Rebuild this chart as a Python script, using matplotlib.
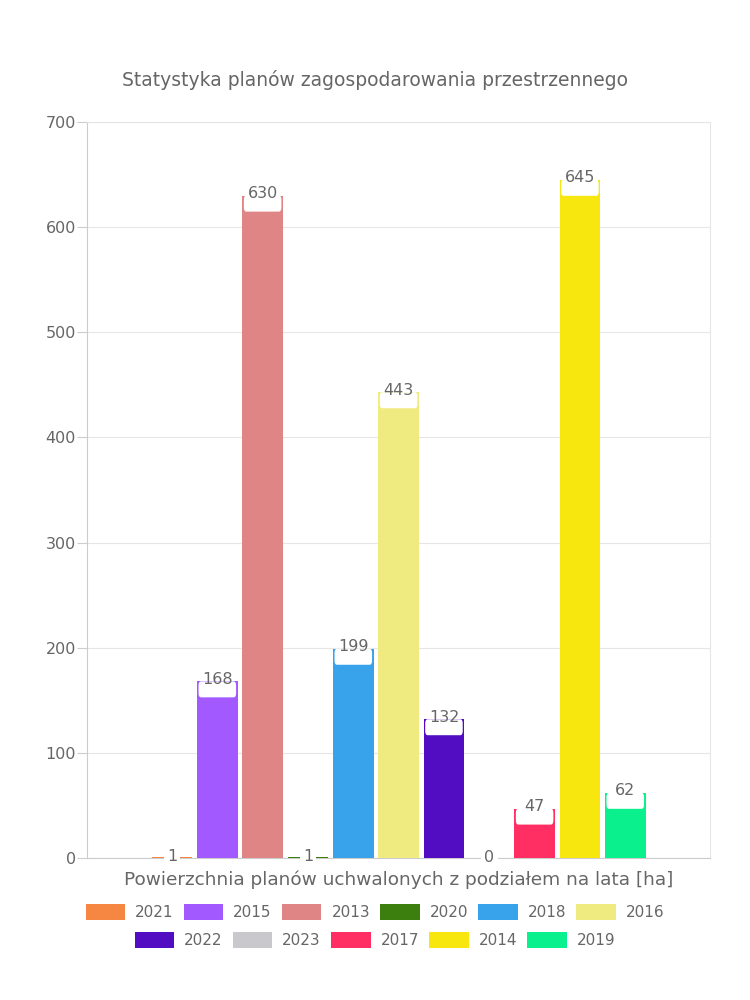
import matplotlib.pyplot as plt
from matplotlib.patches import FancyBboxPatch, Patch

# ── data ──────────────────────────────────────────────────────────────────────
YEARS = ["2021", "2015", "2013", "2020", "2018", "2016",
         "2022", "2023", "2017", "2014", "2019"]
VALUES = [1, 168, 630, 1, 199, 443, 132, 0, 47, 645, 62]
COLORS = ["#F58742", "#A259FF", "#E08585", "#3D7F0E", "#38A3EB", "#F0EB80",
          "#520DC2", "#C9C9CD", "#FF2E63", "#F7E70F", "#0AF08C"]
Y_TICKS = [0, 100, 200, 300, 400, 500, 600, 700]

TITLE = "Statystyka planów zagospodarowania przestrzennego"
XLABEL = "Powierzchnia planów uchwalonych z podziałem na lata [ha]"

TEXT_C = "#666666"
GRID_C = "#E6E6E6"
FONT = ["DejaVu Sans"]

plt.rcParams["font.family"] = FONT

fig = plt.figure(figsize=(7.5, 10), dpi=100)
ax = fig.add_axes([0.116, 0.142, 0.831, 0.736])

n = len(VALUES)
group_w = 0.8
bar_step = group_w / n
bar_w = bar_step * 0.9
xs = [-group_w / 2 + bar_step * (i + 0.5) for i in range(n)]

ax.set_xlim(-0.5, 0.5)
ax.set_ylim(0, 700)

for x, v, c in zip(xs, VALUES, COLORS):
    ax.bar(x, v, width=bar_w, color=c, zorder=3)

# value labels with a white rounded tab hanging from the bar top
px_per_unit = (0.736 * 1000) / 700.0
box_h = 16 / px_per_unit
for x, v in zip(xs, VALUES):
    if v >= 20:
        bw = bar_w * 0.92
        box = FancyBboxPatch((x - bw / 2, v - box_h), bw, box_h,
                             boxstyle="round,pad=0,rounding_size=0.004",
                             mutation_aspect=box_h / 0.004 / 4,
                             facecolor="white", edgecolor="none", zorder=4)
        ax.add_patch(box)
        ax.text(x, v + 2, str(v), ha="center", va="center", fontsize=11.5,
                color=TEXT_C, zorder=5)
    else:
        ax.text(x, v, str(v), ha="center", va="center", fontsize=11.5,
                color=TEXT_C, zorder=5,
                bbox=dict(boxstyle="square,pad=0.2", facecolor="white",
                          edgecolor="none"))

# axes styling
ax.set_yticks(Y_TICKS)
ax.set_xticks([])
ax.tick_params(axis="y", length=7, color="#CCCCCC", labelsize=11.5,
               labelcolor=TEXT_C, pad=1)
ax.grid(axis="y", color=GRID_C, linewidth=0.8, zorder=0)
for side in ["left", "bottom"]:
    ax.spines[side].set_color("#CCCCCC")
for side in ["top", "right"]:
    ax.spines[side].set_color(GRID_C)

fig.text(0.5, 0.92, TITLE, ha="center", va="center", fontsize=13.5,
         color=TEXT_C)
ax.text(0.5, -0.0299, XLABEL, transform=ax.transAxes, ha="center",
        va="center", fontsize=13.3, color=TEXT_C)

# legend in two centred rows
handles = [Patch(facecolor=c, edgecolor="none") for c in COLORS]
leg_kw = dict(frameon=False, fontsize=11, labelcolor=TEXT_C,
              handlelength=2.6, handleheight=1.25, handletextpad=0.65,
              columnspacing=0.65, loc="center")
fig.legend(handles[:6], YEARS[:6], ncol=6,
           bbox_to_anchor=(0.5, 0.088), **leg_kw)
fig.legend(handles[6:], YEARS[6:], ncol=5,
           bbox_to_anchor=(0.5, 0.060), **leg_kw)

fig.savefig("out.png", dpi=100, facecolor="white")
